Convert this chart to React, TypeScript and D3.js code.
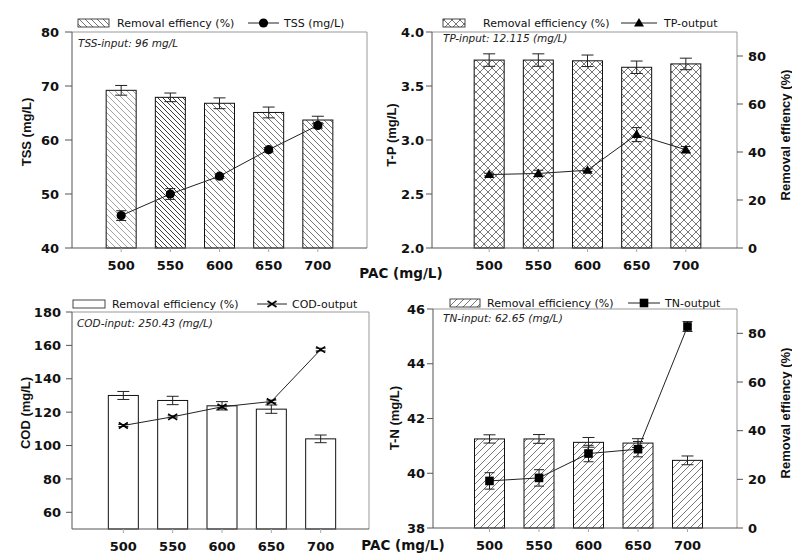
import React from 'react';
import * as d3 from 'd3';

// ---------- data ----------
const pac = [500, 550, 600, 650, 700];

const tssRemoval = [69.2, 67.9, 66.8, 65.1, 63.7];
const tssRemovalErr = [0.9, 0.8, 1.0, 1.0, 0.7];
const tssOut = [46.0, 50.0, 53.3, 58.2, 62.7];
const tssOutErr = [0.9, 1.0, 0.4, 0.4, 0.5];

const tpRemoval = [78.3, 78.3, 78.0, 75.3, 76.7];
const tpRemovalErr = [2.6, 2.6, 2.4, 2.6, 2.4];
const tpOut = [2.68, 2.69, 2.72, 3.05, 2.91];
const tpOutErr = [0.012, 0.03, 0.012, 0.065, 0.03];

const codRemoval = [130, 127, 123.8, 121.8, 104];
const codRemovalErr = [2.4, 2.5, 2.5, 2.5, 2.3];
const codOut = [112, 117.2, 123.2, 126.4, 157.5];
const codOutErr = [0.6, 0.6, 0.8, 0.8, 0.8];

const tnRemoval = [36.6, 36.6, 35.2, 34.9, 27.8];
const tnRemovalErr = [1.7, 1.8, 2.0, 1.8, 1.8];
const tnOut = [39.72, 39.83, 40.72, 40.88, 45.36];
const tnOutErr = [0.3, 0.3, 0.3, 0.28, 0.18];

const tssTicks = [40, 50, 60, 70, 80];
const tpTicks = [2.0, 2.5, 3.0, 3.5, 4.0];
const codTicks = [60, 80, 100, 120, 140, 160, 180];
const tnTicks = [38, 40, 42, 44, 46];
const removalTicks = [0, 20, 40, 60, 80];

const FONT = "'Liberation Sans', Arial, Helvetica, sans-serif";
const WIDE = "'DejaVu Sans', Verdana, sans-serif";

type Marker = 'circle' | 'triangle' | 'cross' | 'square';

function MarkerShape({ type, x, y }: { type: Marker; x: number; y: number }) {
  if (type === 'circle') return <circle cx={x} cy={y} r={4.6} fill="#000" />;
  if (type === 'square') return <rect x={x - 4.3} y={y - 4.3} width={8.6} height={8.6} fill="#000" />;
  if (type === 'triangle')
    return <path d={`M${x},${y - 5} L${x + 5},${y + 3.5} L${x - 5},${y + 3.5} Z`} fill="#000" />;
  return (
    <path
      d={`M${x - 4.5},${y - 3} L${x + 4.5},${y + 3} M${x - 4.5},${y + 3} L${x + 4.5},${y - 3}`}
      stroke="#000"
      strokeWidth={1.6}
      fill="none"
    />
  );
}

interface PanelProps {
  left: number; right: number; top: number; bottom: number;
  xr: [number, number];
  yDomain: [number, number];
  yTicks: number[];
  yFmt: (v: number) => string;
  tickLen: number; labelGap: number;
  rightDomain?: [number, number];
  bars: number[]; barErr: number[];
  barPatterns: string[];
  line: number[]; lineErr: number[];
  marker: Marker;
  legendBox: [number, number];
  legendText1: string; legendText1X: number;
  legendLine: [number, number];
  legendText2: string; legendText2X: number;
  legendY: number;
  annotation: string; annX: number; annY: number;
  yTitle: string; yTitleX: number; yTitleY: number;
  rightTitleX?: number; rightTitleY?: number;
}

function Panel(p: PanelProps) {
  const x = d3.scaleLinear().domain([450, 750]).range(p.xr);
  const y = d3.scaleLinear().domain(p.yDomain).range([p.bottom, p.top]);
  const yr = p.rightDomain ? d3.scaleLinear().domain(p.rightDomain).range([p.bottom, p.top]) : null;
  const yb = yr || y;
  const bw = 30;
  const lineGen = d3.line<number>().x((_, i) => x(pac[i])).y((d) => y(d));
  const axisColor = '#555';
  const frameColor = '#999';
  return (
    <g fontFamily={FONT}>
      {/* bars */}
      {p.bars.map((v, i) => (
        <g key={'b' + i}>
          <rect x={x(pac[i]) - bw / 2} y={yb(v)} width={bw} height={p.bottom - yb(v)} fill="#fff" />
          <rect
            x={x(pac[i]) - bw / 2}
            y={yb(v)}
            width={bw}
            height={p.bottom - yb(v)}
            fill={p.barPatterns[i] === 'none' ? '#fff' : `url(#${p.barPatterns[i]})`}
            stroke="#111"
            strokeWidth={1}
          />
        </g>
      ))}
      {/* bar error bars */}
      {p.bars.map((v, i) => {
        const cx = x(pac[i]);
        const y1 = yb(v + p.barErr[i]);
        const y2 = yb(v - p.barErr[i]);
        return (
          <path
            key={'be' + i}
            d={`M${cx - 6},${y1} H${cx + 6} M${cx},${y1} V${y2} M${cx - 6},${y2} H${cx + 6}`}
            stroke="#222"
            strokeWidth={1}
            fill="none"
          />
        );
      })}
      {/* frame */}
      <path d={`M${p.left},${p.top} H${p.right} V${p.bottom}`} stroke={frameColor} strokeWidth={1} fill="none" />
      <line x1={p.left} x2={p.right} y1={p.bottom} y2={p.bottom} stroke={axisColor} strokeWidth={1} />
      <line x1={p.left} x2={p.left} y1={p.top} y2={p.bottom} stroke={axisColor} strokeWidth={1} />
      {/* left ticks */}
      {p.yTicks.map((t) => (
        <g key={'yt' + t}>
          <line x1={p.left - p.tickLen} x2={p.left} y1={y(t)} y2={y(t)} stroke={axisColor} strokeWidth={1} />
          <text x={p.left - p.labelGap} y={y(t)} dy="0.36em" textAnchor="end" fontFamily={WIDE} fontSize={13} fontWeight="bold" fill="#111">
            {p.yFmt(t)}
          </text>
        </g>
      ))}
      {/* right ticks */}
      {yr &&
        removalTicks.map((t) => (
          <g key={'rt' + t}>
            <line x1={p.right} x2={p.right + 6} y1={yr(t)} y2={yr(t)} stroke={axisColor} strokeWidth={1} />
            <text x={p.right + 11} y={yr(t)} dy="0.36em" textAnchor="start" fontFamily={WIDE} fontSize={13} fontWeight="bold" fill="#111">
              {t}
            </text>
          </g>
        ))}
      {/* x ticks */}
      {pac.map((v) => (
        <g key={'xt' + v}>
          <line x1={x(v)} x2={x(v)} y1={p.bottom} y2={p.bottom + 4} stroke="#aaa" strokeWidth={1} />
          <text x={x(v)} y={p.bottom + 22} textAnchor="middle" fontFamily={WIDE} fontSize={13} fontWeight="bold" fill="#111">
            {v}
          </text>
        </g>
      ))}
      {/* line */}
      <path d={lineGen(p.line) || ''} stroke="#222" strokeWidth={1} fill="none" />
      {p.line.map((v, i) => {
        const cx = x(pac[i]);
        const y1 = y(v + p.lineErr[i]);
        const y2 = y(v - p.lineErr[i]);
        return (
          <path
            key={'le' + i}
            d={`M${cx - 5},${y1} H${cx + 5} M${cx},${y1} V${y2} M${cx - 5},${y2} H${cx + 5}`}
            stroke="#222"
            strokeWidth={1}
            fill="none"
          />
        );
      })}
      {p.line.map((v, i) => (
        <MarkerShape key={'m' + i} type={p.marker} x={x(pac[i])} y={y(v)} />
      ))}
      {/* legend */}
      <rect
        x={p.legendBox[0]}
        y={p.legendY - 4}
        width={p.legendBox[1] - p.legendBox[0]}
        height={8}
        fill={p.barPatterns[2] === 'none' ? '#fff' : `url(#${p.barPatterns[2]})`}
        stroke="#333"
        strokeWidth={0.9}
      />
      <text x={p.legendText1X} y={p.legendY} dy="0.36em" fontFamily={WIDE} fontSize={11} fill="#111">
        {p.legendText1}
      </text>
      <line x1={p.legendLine[0]} x2={p.legendLine[1]} y1={p.legendY} y2={p.legendY} stroke="#222" strokeWidth={1} />
      <MarkerShape type={p.marker} x={(p.legendLine[0] + p.legendLine[1]) / 2} y={p.legendY} />
      <text x={p.legendText2X} y={p.legendY} dy="0.36em" fontFamily={WIDE} fontSize={11} fill="#111">
        {p.legendText2}
      </text>
      {/* annotation */}
      <text x={p.annX} y={p.annY} dy="0.36em" fontFamily={WIDE} fontSize={10.5} fontStyle="italic" fill="#222">
        {p.annotation}
      </text>
      {/* titles */}
      <text
        transform={`translate(${p.yTitleX},${p.yTitleY}) rotate(-90)`}
        textAnchor="middle"
        dy="0.36em"
        fontSize={13}
        fontWeight="bold"
        fill="#111"
      >
        {p.yTitle}
      </text>
      {p.rightTitleX !== undefined && (
        <text
          transform={`translate(${p.rightTitleX},${p.rightTitleY}) rotate(-90)`}
          textAnchor="middle"
          dy="0.36em"
          fontSize={13}
          fontWeight="bold"
          fill="#111"
        >
          Removal effiency (%)
        </text>
      )}
    </g>
  );
}

export default function App() {
  const f0 = (v: number) => d3.format('d')(v);
  const f1 = (v: number) => d3.format('.1f')(v);
  return (
    <svg width={792} height={554} style={{ position: 'absolute', left: 0, top: 0, background: '#fff' }}>
      <defs>
        <pattern id="hBackLight" patternUnits="userSpaceOnUse" width={6} height={6}>
          <path d="M0,0 L6,6 M-1,5 L1,7 M5,-1 L7,1" stroke="#999" strokeWidth={0.9} />
        </pattern>
        <pattern id="hBack" patternUnits="userSpaceOnUse" width={6} height={6}>
          <path d="M0,0 L6,6 M-1,5 L1,7 M5,-1 L7,1" stroke="#666" strokeWidth={0.9} />
        </pattern>
        <pattern id="hBackDense" patternUnits="userSpaceOnUse" width={5} height={5}>
          <path d="M0,0 L5,5 M-1,4 L1,6 M4,-1 L6,1" stroke="#222" strokeWidth={0.9} />
        </pattern>
        <pattern id="hCross" patternUnits="userSpaceOnUse" width={8} height={8}>
          <path d="M0,0 L8,8 M8,0 L0,8" stroke="#555" strokeWidth={0.8} />
        </pattern>
        <pattern id="hFwd" patternUnits="userSpaceOnUse" width={7} height={7}>
          <path d="M0,7 L7,0 M-1,1 L1,-1 M6,8 L8,6" stroke="#555" strokeWidth={0.8} />
        </pattern>
      </defs>
      <rect width={792} height={554} fill="#fff" />

      <Panel
        left={72} right={367} top={32} bottom={248} xr={[72, 367]}
        yDomain={[40, 80]} yTicks={tssTicks} yFmt={f0} tickLen={7} labelGap={13}
        bars={tssRemoval} barErr={tssRemovalErr}
        barPatterns={['hBackLight', 'hBackDense', 'hBack', 'hBack', 'hBack']}
        line={tssOut} lineErr={tssOutErr} marker="circle"
        legendBox={[78, 109]} legendText1="Removal effiency (%)" legendText1X={117}
        legendLine={[248, 279]} legendText2="TSS (mg/L)" legendText2X={284} legendY={23}
        annotation="TSS-input: 96 mg/L" annX={78} annY={43}
        yTitle="TSS (mg/L)" yTitleX={26} yTitleY={132}
      />
      <Panel
        left={432} right={737} top={32} bottom={248} xr={[440, 735]}
        yDomain={[2, 4]} yTicks={tpTicks} yFmt={f1} tickLen={6} labelGap={8}
        rightDomain={[0, 90]}
        bars={tpRemoval} barErr={tpRemovalErr}
        barPatterns={['hCross', 'hCross', 'hCross', 'hCross', 'hCross']}
        line={tpOut} lineErr={tpOutErr} marker="triangle"
        legendBox={[443, 465]} legendText1="Removal efficiency (%)" legendText1X={483}
        legendLine={[621, 657]} legendText2="TP-output" legendText2X={664} legendY={23}
        annotation="TP-input: 12.115 (mg/L)" annX={443} annY={38}
        yTitle="T-P (mg/L)" yTitleX={391} yTitleY={135}
        rightTitleX={785} rightTitleY={135}
      />
      <Panel
        left={72} right={369} top={312} bottom={529} xr={[74, 370]}
        yDomain={[50, 180]} yTicks={codTicks} yFmt={f0} tickLen={6} labelGap={11}
        bars={codRemoval} barErr={codRemovalErr}
        barPatterns={['none', 'none', 'none', 'none', 'none']}
        line={codOut} lineErr={codOutErr} marker="cross"
        legendBox={[73, 105]} legendText1="Removal efficiency (%)" legendText1X={112}
        legendLine={[257, 287]} legendText2="COD-output" legendText2X={292} legendY={304}
        annotation="COD-input: 250.43 (mg/L)" annX={77} annY={323}
        yTitle="COD (mg/L)" yTitleX={25} yTitleY={413}
      />
      <Panel
        left={433} right={737} top={309} bottom={528} xr={[440, 737]}
        yDomain={[38, 46]} yTicks={tnTicks} yFmt={f0} tickLen={6} labelGap={8}
        rightDomain={[0, 90]}
        bars={tnRemoval} barErr={tnRemovalErr}
        barPatterns={['hFwd', 'hFwd', 'hFwd', 'hFwd', 'hFwd']}
        line={tnOut} lineErr={tnOutErr} marker="square"
        legendBox={[450, 480]} legendText1="Removal efficiency (%)" legendText1X={487}
        legendLine={[628, 660]} legendText2="TN-output" legendText2X={665} legendY={303}
        annotation="TN-input: 62.65 (mg/L)" annX={443} annY={318}
        yTitle="T-N (mg/L)" yTitleX={394} yTitleY={418}
        rightTitleX={785} rightTitleY={413}
      />

      <text x={401} y={273} dy="0.36em" textAnchor="middle" fontFamily={WIDE} fontSize={13.5} fontWeight="bold" fill="#111">
        PAC (mg/L)
      </text>
      <text x={403} y={545} dy="0.36em" textAnchor="middle" fontFamily={WIDE} fontSize={13.5} fontWeight="bold" fill="#111">
        PAC (mg/L)
      </text>
    </svg>
  );
}
